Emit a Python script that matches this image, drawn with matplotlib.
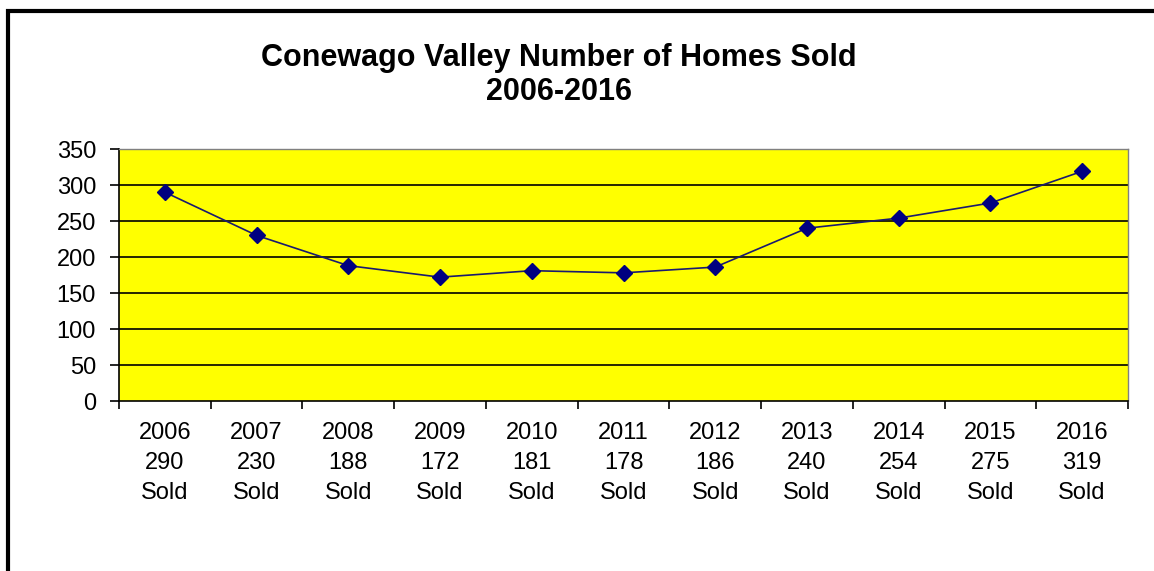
import numpy as np
import matplotlib
matplotlib.use("Agg")
import matplotlib.pyplot as plt
from matplotlib.patches import Rectangle

years = ["2006", "2007", "2008", "2009", "2010", "2011", "2012", "2013", "2014", "2015", "2016"]
homes_sold = [290, 230, 188, 172, 181, 178, 186, 240, 254, 275, 319]
y_ticks = [0, 50, 100, 150, 200, 250, 300, 350]
title = "Conewago Valley Number of Homes Sold\n2006-2016"

plt.rcParams['font.family'] = ['Liberation Sans', 'DejaVu Sans']

W, H = 1154, 571
fig = plt.figure(figsize=(W / 100, H / 100), dpi=100)

# outer chart frame (runs off the right and bottom edges)
fig.patches.append(Rectangle((7.5 / W, -0.1), 1.2, (H - 10.5) / H + 0.1,
                             transform=fig.transFigure, fill=False,
                             edgecolor='black', linewidth=3, zorder=0))

left, right, top, bottom = 119, 1128, 149, 401
ax = fig.add_axes([left / W, 1 - bottom / H, (right - left) / W, (bottom - top) / H])
ax.set_facecolor('#FFFF00')

x = np.arange(len(years))
ax.plot(x, homes_sold, color='#1a1a6e', linewidth=1.2, marker='D',
        markersize=8, markerfacecolor='#000080', markeredgecolor='#000080', zorder=3)

ax.set_xlim(-0.5, len(years) - 0.5)
ax.set_ylim(0, 350)
ax.set_yticks(y_ticks)
ax.set_yticklabels([str(v) for v in y_ticks], fontsize=17)
for v in y_ticks[1:-1]:
    ax.axhline(v, color='black', linewidth=1.2, zorder=1)

# boundary ticks between categories, labels at centers
ax.set_xticks(np.arange(-0.5, len(years), 1.0))
ax.set_xticklabels([])
ax.set_xticks(x, minor=True)
ax.set_xticklabels([f"{y}\n{v}\nSold" for y, v in zip(years, homes_sold)],
                   minor=True, fontsize=17, linespacing=1.48)
ax.tick_params(axis='x', which='major', direction='out', length=6, width=1.2)
ax.tick_params(axis='x', which='minor', length=0, pad=15)
ax.tick_params(axis='y', direction='out', length=6.5, width=1.2, pad=10)

for s in ['top', 'right']:
    ax.spines[s].set_color('#808080')
    ax.spines[s].set_linewidth(1)
for s in ['left', 'bottom']:
    ax.spines[s].set_color('black')
    ax.spines[s].set_linewidth(1.2)

fig.text(559 / W, 1 - 75 / H, title, ha='center', va='center',
         fontsize=22, fontweight='bold', linespacing=1.2)

fig.savefig("out.png", dpi=100)
